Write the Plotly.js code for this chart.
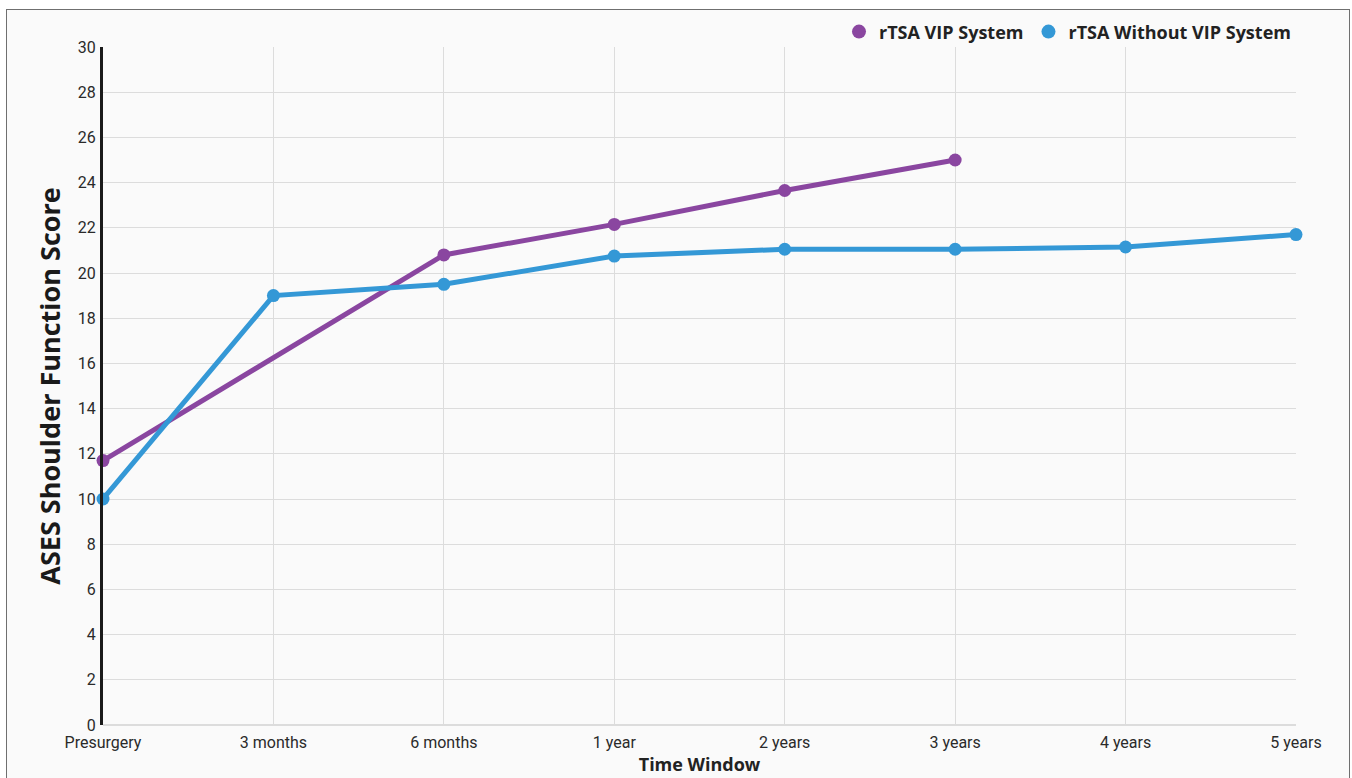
<!DOCTYPE html>
<html>
<head>
<meta charset="utf-8">
<script src="https://cdn.plot.ly/plotly-3.0.1.min.js"></script>
<style>
html,body{margin:0;padding:0;background:#ffffff;width:1352px;height:778px;overflow:hidden;}
#frame{position:absolute;left:6px;top:9px;width:1342px;height:780px;border:1.5px solid #6f6f6f;background:#fafafa;}
#chart{width:1342px;height:780px;}
</style>
</head>
<body>
<div id="frame"><div id="chart"></div></div>
<script>
const categories = ["Presurgery","3 months","6 months","1 year","2 years","3 years","4 years","5 years"];
const vipValues = [11.7, null, 20.8, 22.15, 23.65, 25.0, null, null];
const withoutVipValues = [10.0, 19.0, 19.5, 20.75, 21.05, 21.05, 21.15, 21.7];
const yTicks = [0,2,4,6,8,10,12,14,16,18,20,22,24,26,28,30];
const seriesNames = ["rTSA VIP System","rTSA Without VIP System"];
const purple = "#8a46a0";
const blue = "#3498d6";

const traces = [
  {x: categories, y: vipValues, name: seriesNames[0], mode: "lines+markers", connectgaps: true,
   line: {color: purple, width: 5}, marker: {color: purple, size: 13}, showlegend: false, cliponaxis: false},
  {x: categories, y: withoutVipValues, name: seriesNames[1], mode: "lines+markers",
   line: {color: blue, width: 5}, marker: {color: blue, size: 13}, showlegend: false, cliponaxis: false},
  {x: [null], y: [null], name: seriesNames[0], mode: "markers", marker: {color: purple, size: 14}, showlegend: true},
  {x: [null], y: [null], name: seriesNames[1], mode: "markers", marker: {color: blue, size: 14}, showlegend: true}
];

const layout = {
  width: 1342, height: 780,
  paper_bgcolor: "#fafafa", plot_bgcolor: "#fafafa",
  margin: {l: 96, r: 53, t: 37, b: 65, autoexpand: false},
  font: {family: "Roboto, 'Open Sans', sans-serif", color: "#2a2a2a"},
  showlegend: true,
  legend: {orientation: "h", x: 1, xanchor: "right", y: 0.995, yanchor: "bottom",
    font: {family: "'Open Sans', Lato, sans-serif", size: 18, color: "#222", weight: 700},
    bgcolor: "rgba(0,0,0,0)", itemwidth: 30, traceorder: "normal", tracegroupgap: 0},
  xaxis: {
    type: "category", categoryarray: categories, range: [0, 7],
    showgrid: true, gridcolor: "#dcdcdc", gridwidth: 1,
    showline: false, zeroline: false, ticks: "", ticklabelstandoff: 6,
    tickfont: {size: 16, color: "#2a2a2a", family: "Roboto, sans-serif"},
    title: {text: "Time Window", font: {size: 18, color: "#222", family: "'Open Sans', Lato, sans-serif", weight: 700}, standoff: 7}
  },
  yaxis: {
    range: [0, 30], tickvals: yTicks, ticktext: yTicks.map(String),
    showgrid: true, gridcolor: "#dcdcdc", gridwidth: 1,
    zeroline: true, zerolinecolor: "#dcdcdc", zerolinewidth: 1.5,
    showline: true, linecolor: "#1a1a1a", linewidth: 3,
    ticks: "", ticklabelstandoff: 1,
    tickfont: {size: 16, color: "#2a2a2a", family: "Roboto, sans-serif"},
    title: {text: "ASES Shoulder Function Score", font: {size: 27, color: "#1a1a1a", family: "'Open Sans', Lato, sans-serif", weight: 700}, standoff: 10}
  }
};

Plotly.newPlot("chart", traces, layout, {displayModeBar: false, staticPlot: true});
</script>
</body>
</html>
